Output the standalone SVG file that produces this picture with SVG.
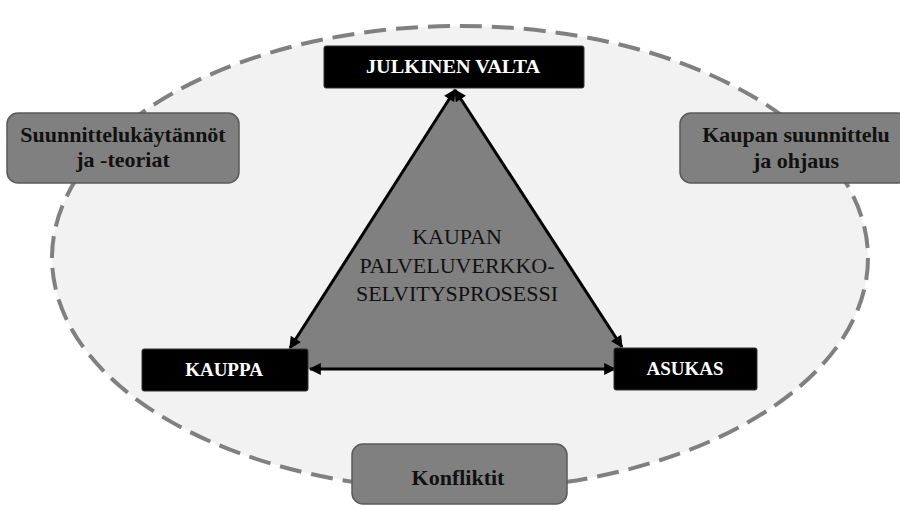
<svg xmlns="http://www.w3.org/2000/svg" width="900" height="510" viewBox="0 0 900 510">
<style>
.lbl{font-family:"Liberation Serif","Times New Roman",serif;font-weight:bold;font-size:19px;fill:#ffffff;text-anchor:middle}
.glbl{font-family:"Liberation Serif","Times New Roman",serif;font-weight:bold;font-size:22px;fill:#111111;text-anchor:middle}
.ctr{font-family:"Liberation Serif","Times New Roman",serif;font-size:22px;fill:#111111;text-anchor:middle}
.blk{fill:#000000;stroke:#333333;stroke-width:1}
.gry{fill:#808080;stroke:#5a5a5a;stroke-width:1.5}
.conn{stroke:#000000;stroke-width:3;fill:none;marker-start:url(#ah);marker-end:url(#ah)}
</style>
<defs>
<marker id="ah" viewBox="0 0 10 10" refX="9" refY="5" markerWidth="4.5" markerHeight="4" orient="auto-start-reverse" markerUnits="strokeWidth">
<path d="M0,0 L10,5 L0,10 z" fill="#000000"/>
</marker>
</defs>
<rect width="900" height="510" fill="#ffffff"/>
<ellipse cx="460" cy="258" rx="408" ry="232" fill="#f2f2f2" stroke="#808080" stroke-width="4" stroke-dasharray="22,10"/>
<polygon points="455,92 291,348 309,369 614,369 621,347" fill="#808080"/>
<g id="connectors">
<line class="conn" x1="455" y1="90" x2="290" y2="348"/>
<line class="conn" x1="455" y1="90" x2="622" y2="347"/>
<line class="conn" x1="310" y1="369" x2="615" y2="369"/>
</g>
<g id="center">
<text class="ctr" x="457" y="244">KAUPAN</text>
<text class="ctr" x="457" y="273">PALVELUVERKKO-</text>
<text class="ctr" x="457" y="301">SELVITYSPROSESSI</text>
</g>
<g id="julkinen">
<rect class="blk" x="324" y="46" width="260" height="42" rx="2"/>
<text class="lbl" x="453" y="73" textLength="174" lengthAdjust="spacingAndGlyphs">JULKINEN VALTA</text>
</g>
<g id="kauppa">
<rect class="blk" x="142" y="349" width="166" height="42" rx="2"/>
<text class="lbl" x="224" y="376">KAUPPA</text>
</g>
<g id="asukas">
<rect class="blk" x="614" y="348" width="143" height="42" rx="2"/>
<text class="lbl" x="685" y="375">ASUKAS</text>
</g>
<g id="suunnittelukaytannot">
<rect class="gry" x="7" y="113" width="232" height="70" rx="11"/>
<text class="glbl" x="123" y="142">Suunnittelukäytännöt</text>
<text class="glbl" x="123" y="167">ja -teoriat</text>
</g>
<g id="kaupansuunnittelu">
<rect class="gry" x="680" y="113" width="228" height="70" rx="11"/>
<text class="glbl" x="796" y="142">Kaupan suunnittelu</text>
<text class="glbl" x="796" y="168">ja ohjaus</text>
</g>
<g id="konfliktit">
<rect class="gry" x="352" y="444" width="215" height="60" rx="11"/>
<text class="glbl" x="458" y="485">Konfliktit</text>
</g>
</svg>
